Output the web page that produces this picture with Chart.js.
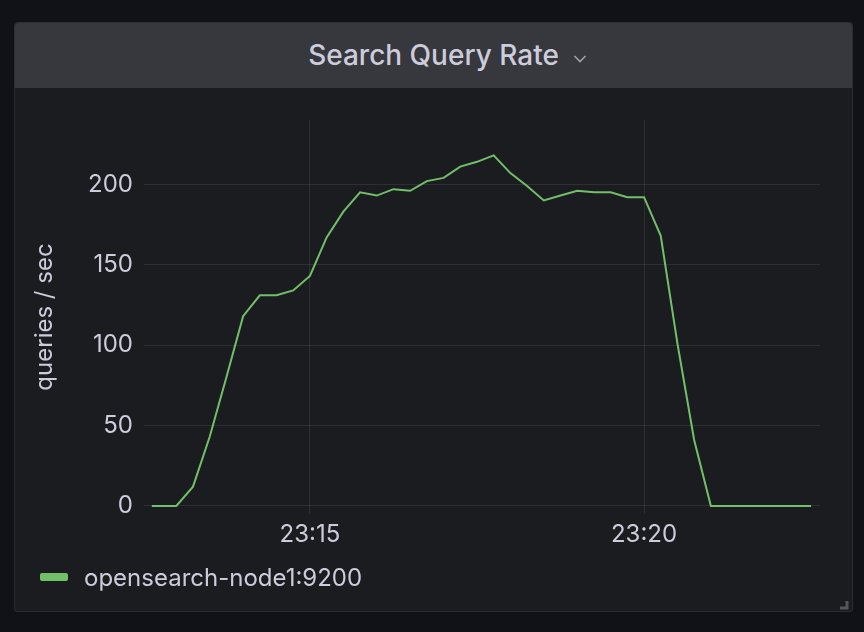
<!DOCTYPE html>
<html>
<head>
<meta charset="utf-8">
<script src="https://cdn.jsdelivr.net/npm/chart.js@4/dist/chart.umd.min.js"></script>
<style>
  html, body { margin: 0; padding: 0; background: #111217; width: 864px; height: 632px; overflow: hidden; font-family: Inter, "Noto Sans", sans-serif; }
  #panel { position: absolute; left: 14px; top: 22px; width: 837px; height: 588px; background: #1b1c20; border: 1px solid #2b2c31; border-radius: 3px; }
  #header { position: absolute; left: 0; top: 0; width: 100%; height: 65px; background: #37383d; border-radius: 3px 3px 0 0; }
  #title { position: absolute; left: 0; right: 0; top: 0; height: 65px; line-height: 65px; text-align: center; color: #ccccdc; font-size: 28px; font-weight: 500; }
  #chev { position: absolute; left: 558px; top: 31px; }
  #corner { position: absolute; left: 823px; top: 576px; }
  #c { position: absolute; left: 0; top: 0; }
  #legend { position: absolute; left: 40px; top: 560px; height: 34px; display: flex; align-items: center; color: #ccccdc; font-size: 24px; }
  #legend .sw { width: 28px; height: 8px; border-radius: 2px; margin-right: 16px; }
</style>
</head>
<body>
<div id="panel">
  <div id="header"></div>
  <div id="title">Search Query Rate</div>
  <svg id="chev" width="14" height="10" viewBox="0 0 14 10"><polyline points="1.5,2 7,7.5 12.5,2" fill="none" stroke="#9fa1ab" stroke-width="1.6"/></svg>
  <svg id="corner" width="12" height="12" viewBox="0 0 12 12"><path d="M9 2 V9 H2" fill="none" stroke="#55565c" stroke-width="3"/></svg>
</div>
<canvas id="c" width="864" height="632"></canvas>
<div id="legend"></div>
<script>
// Time values in seconds since midnight (23:15 = 83700)
const seriesLabel = "opensearch-node1:9200";
const times = [83558, 83580, 83595, 83610, 83625, 83640, 83655, 83670, 83685, 83700,
  83715, 83730, 83745, 83760, 83775, 83790, 83805, 83820, 83835, 83850,
  83865, 83880, 83895, 83910, 83925, 83940, 83955, 83970, 83985, 84000,
  84015, 84030, 84045, 84060, 84075, 84090, 84105, 84120, 84135, 84150];
const queryRate = [0, 0, 12, 43, 80, 118, 131, 131, 134, 143,
  167, 183, 195, 193, 197, 196, 202, 204, 211, 214,
  218, 207, 199, 190, 193, 196, 195, 195, 192, 192,
  168, 101, 41, 0, 0, 0, 0, 0, 0, 0];
const xTicks = [83700, 84000];
const yTicks = [0, 50, 100, 150, 200];
const xMin = 83551, xMax = 84158;
const yMin = -5, yMax = 240;

const lineColor = '#73bf69';
const gridColor = 'rgba(204,204,220,0.11)';
const textColor = '#ccccdc';

function fmtTime(v) {
  const h = Math.floor(v / 3600), m = Math.floor((v % 3600) / 60);
  return String(h).padStart(2, '0') + ':' + String(m).padStart(2, '0');
}

const chart = new Chart(document.getElementById('c'), {
  type: 'line',
  data: {
    datasets: [{
      label: seriesLabel,
      data: times.map((t, i) => ({ x: t, y: queryRate[i] })),
      borderColor: lineColor,
      backgroundColor: lineColor,
      borderWidth: 2,
      pointRadius: 0,
      tension: 0,
      fill: false
    }]
  },
  options: {
    responsive: false,
    animation: false,
    events: [],
    layout: { padding: { left: 14, top: 120, right: 44, bottom: 78 } },
    plugins: { legend: { display: false }, tooltip: { enabled: false } },
    scales: {
      x: {
        type: 'linear', min: xMin, max: xMax,
        afterBuildTicks: s => { s.ticks = xTicks.map(v => ({ value: v })); },
        afterFit: s => { s.height = 40; },
        grid: { color: gridColor, drawTicks: false, lineWidth: 1 },
        border: { display: false },
        ticks: { color: textColor, font: { family: 'Inter', size: 24 }, padding: 6, maxRotation: 0, callback: v => fmtTime(v) }
      },
      y: {
        min: yMin, max: yMax,
        afterBuildTicks: s => { s.ticks = yTicks.map(v => ({ value: v })); },
        afterFit: s => { s.width = 130; },
        grid: { color: gridColor, drawTicks: false, lineWidth: 1 },
        border: { display: false },
        ticks: { color: textColor, font: { family: 'Inter', size: 24 }, padding: 11 },
        title: { display: true, text: 'queries / sec', color: textColor, font: { family: 'Inter', size: 24 }, padding: { top: 16.5, bottom: 0 } }
      }
    }
  }
});

// HTML legend built from the chart's dataset
const leg = document.getElementById('legend');
chart.data.datasets.forEach(ds => {
  const sw = document.createElement('span'); sw.className = 'sw'; sw.style.background = ds.borderColor;
  const tx = document.createElement('span'); tx.textContent = ds.label;
  leg.appendChild(sw); leg.appendChild(tx);
});
</script>
</body>
</html>
